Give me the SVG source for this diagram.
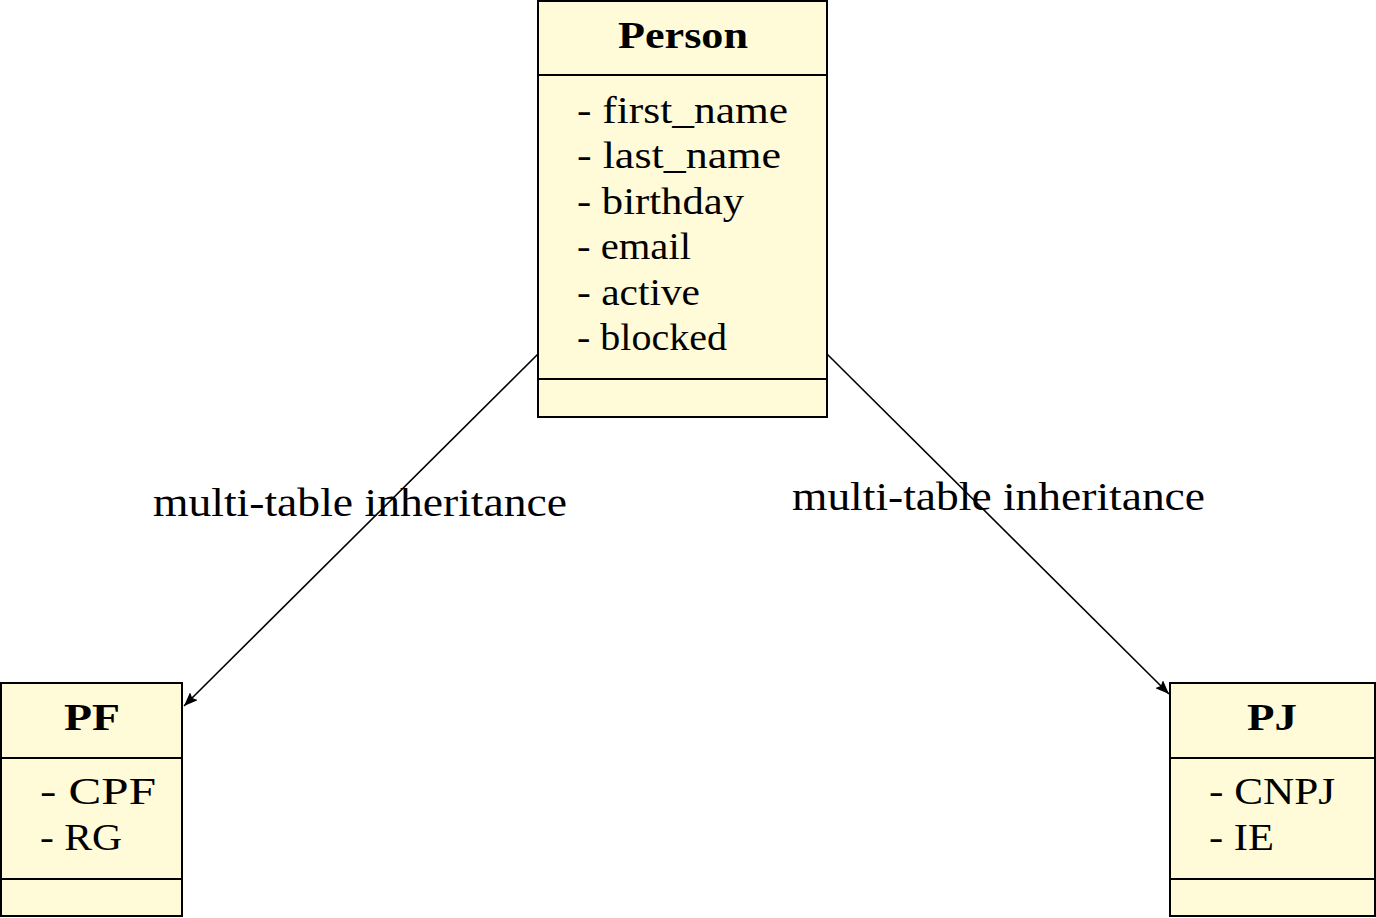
<svg xmlns="http://www.w3.org/2000/svg" width="1376" height="918" viewBox="0 0 1376 918">
<style>
.box{fill:#fffbd8;stroke:#000;stroke-width:2}
.sep{stroke:#000;stroke-width:2}
.t{font-family:"Liberation Serif","DejaVu Serif",serif;font-size:38px;fill:#000}
.lbl{font-size:41px}
.h{font-weight:bold;text-anchor:middle;font-size:37px}
.edge{stroke:#000;stroke-width:1.6;fill:none}
</style>
<defs>
<marker id="arr" viewBox="0 0 14 11" refX="14" refY="5.5" markerWidth="14" markerHeight="11" markerUnits="userSpaceOnUse" orient="auto">
<path d="M0,0 L14,5.5 L0,11 L2.5,5.5 z" fill="#000"/>
</marker>
</defs>
<g id="connectors">
<line class="edge" x1="538" y1="354" x2="184" y2="706" marker-end="url(#arr)"/>
<line class="edge" x1="827" y1="354" x2="1169" y2="694" marker-end="url(#arr)"/>
<text class="t lbl" x="153" y="516" textLength="414" lengthAdjust="spacingAndGlyphs">multi-table inheritance</text>
<text class="t lbl" x="792" y="510" textLength="413" lengthAdjust="spacingAndGlyphs">multi-table inheritance</text>
</g>
<g id="person">
<rect class="box" x="538" y="1" width="289" height="416"/>
<line class="sep" x1="538" y1="75" x2="827" y2="75"/>
<line class="sep" x1="538" y1="379" x2="827" y2="379"/>
<text class="t h" x="683" y="48" textLength="130" lengthAdjust="spacingAndGlyphs">Person</text>
<text class="t" x="577" y="123" textLength="211" lengthAdjust="spacingAndGlyphs">- first_name</text>
<text class="t" x="577" y="168" textLength="204" lengthAdjust="spacingAndGlyphs">- last_name</text>
<text class="t" x="577" y="214" textLength="167" lengthAdjust="spacingAndGlyphs">- birthday</text>
<text class="t" x="577" y="259" textLength="114" lengthAdjust="spacingAndGlyphs">- email</text>
<text class="t" x="577" y="305" textLength="123" lengthAdjust="spacingAndGlyphs">- active</text>
<text class="t" x="577" y="350" textLength="150" lengthAdjust="spacingAndGlyphs">- blocked</text>
</g>
<g id="pf">
<rect class="box" x="1" y="683" width="181" height="233"/>
<line class="sep" x1="1" y1="758" x2="182" y2="758"/>
<line class="sep" x1="1" y1="879" x2="182" y2="879"/>
<text class="t h" x="92" y="730" textLength="56" lengthAdjust="spacingAndGlyphs">PF</text>
<text class="t" x="40" y="804" textLength="116" lengthAdjust="spacingAndGlyphs">- CPF</text>
<text class="t" x="40" y="850" textLength="82" lengthAdjust="spacingAndGlyphs">- RG</text>
</g>
<g id="pj">
<rect class="box" x="1170" y="683" width="205" height="233"/>
<line class="sep" x1="1170" y1="758" x2="1375" y2="758"/>
<line class="sep" x1="1170" y1="879" x2="1375" y2="879"/>
<text class="t h" x="1272" y="730" textLength="50" lengthAdjust="spacingAndGlyphs">PJ</text>
<text class="t" x="1209" y="804" textLength="126" lengthAdjust="spacingAndGlyphs">- CNPJ</text>
<text class="t" x="1209" y="850" textLength="65" lengthAdjust="spacingAndGlyphs">- IE</text>
</g>
</svg>
